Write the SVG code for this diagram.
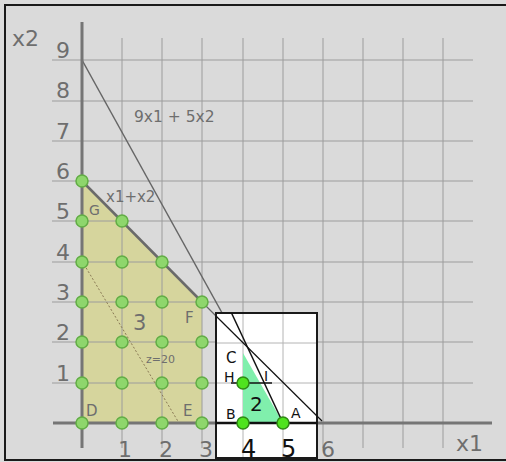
<svg xmlns="http://www.w3.org/2000/svg" width="506" height="462" viewBox="0 0 506 462">
<style>
.grid{stroke:#9c9c9c;stroke-width:1;fill:none}
.igrid{stroke:#b4b4b4;stroke-width:1;fill:none}
.axis{stroke:#757575;stroke-width:3;fill:none}
.lbl{font-family:"DejaVu Sans",sans-serif;fill:#6e6e6e}
.ilbl{font-family:"DejaVu Sans",sans-serif;fill:#111}
.pt{fill:#8ed66c;stroke:#62ad45;stroke-width:1.5}
.ipt{fill:#4fe31e;stroke:#2f8a14;stroke-width:1.5}
</style>
<rect x="0" y="0" width="506" height="462" fill="#dcdcdc"/>
<rect x="5" y="5" width="503" height="455" fill="#dadada" stroke="#1a1a1a" stroke-width="2"/>

<g id="feasible-region">
<polygon points="82,423 82,181 202,302 202,423" fill="#d6d59d"/>
</g>

<g id="grid">
<path class="grid" d="M52,383H473M52,342H473M52,302H473M52,262H473M52,221H473M52,181H473M52,141H473M52,101H473M52,60H473"/>
<path class="grid" d="M122,38V448M162,38V448M202,38V448M243,38V448M283,38V448M323,38V448M363,38V448M403,38V448M443,38V448"/>
</g>

<g id="connectors">
<line x1="82" y1="60" x2="283" y2="423" stroke="#666" stroke-width="1.5"/>
<line x1="202" y1="302" x2="216" y2="316" stroke="#666" stroke-width="1.2"/>
<line x1="82" y1="181" x2="202" y2="302" stroke="#6a6a6a" stroke-width="2.5"/>
<line x1="82" y1="261" x2="179" y2="423" stroke="#8a7a55" stroke-width="1" stroke-dasharray="2,2"/>
</g>

<g id="axes">
<line class="axis" x1="53" y1="423" x2="492" y2="423"/>
<line class="axis" x1="82" y1="22" x2="82" y2="448"/>
</g>

<g id="inset">
<rect x="216" y="313" width="101" height="145" fill="#ffffff" stroke="#1a1a1a" stroke-width="2"/>
<path class="igrid" d="M243,314V457M283,314V457M217,343H316M217,383H316"/>
<polygon points="243,353 243,423 283,423" fill="#80efac"/>
<line x1="216" y1="423" x2="317" y2="423" stroke="#111" stroke-width="2.5"/>
<line x1="231.5" y1="313" x2="283" y2="423" stroke="#111" stroke-width="1.5"/>
<line x1="216" y1="316" x2="322" y2="421" stroke="#111" stroke-width="1.2"/>
<line x1="231" y1="383" x2="272" y2="383" stroke="#111" stroke-width="1.5"/>
</g>

<g id="points">
<circle class="pt" cx="82" cy="181" r="6"/>
<circle class="pt" cx="82" cy="221" r="6"/>
<circle class="pt" cx="122" cy="221" r="6"/>
<circle class="pt" cx="82" cy="262" r="6"/>
<circle class="pt" cx="122" cy="262" r="6"/>
<circle class="pt" cx="162" cy="262" r="6"/>
<circle class="pt" cx="82" cy="302" r="6"/>
<circle class="pt" cx="122" cy="302" r="6"/>
<circle class="pt" cx="162" cy="302" r="6"/>
<circle class="pt" cx="202" cy="302" r="6"/>
<circle class="pt" cx="82" cy="342" r="6"/>
<circle class="pt" cx="122" cy="342" r="6"/>
<circle class="pt" cx="162" cy="342" r="6"/>
<circle class="pt" cx="202" cy="342" r="6"/>
<circle class="pt" cx="82" cy="383" r="6"/>
<circle class="pt" cx="122" cy="383" r="6"/>
<circle class="pt" cx="162" cy="383" r="6"/>
<circle class="pt" cx="202" cy="383" r="6"/>
<circle class="pt" cx="82" cy="423" r="6"/>
<circle class="pt" cx="122" cy="423" r="6"/>
<circle class="pt" cx="162" cy="423" r="6"/>
<circle class="pt" cx="202" cy="423" r="6"/>
</g>
<g id="inset-points">
<circle class="ipt" cx="243" cy="383" r="6"/>
<circle class="ipt" cx="243" cy="423" r="6"/>
<circle class="ipt" cx="283" cy="423" r="6"/>
</g>

<g id="labels">
<text class="lbl" x="12" y="46" font-size="22">x2</text>
<text class="lbl" x="456" y="451" font-size="22">x1</text>
<text class="lbl" x="56" y="58" font-size="22">9</text>
<text class="lbl" x="56" y="98" font-size="22">8</text>
<text class="lbl" x="56" y="139" font-size="22">7</text>
<text class="lbl" x="56" y="179" font-size="22">6</text>
<text class="lbl" x="56" y="219" font-size="22">5</text>
<text class="lbl" x="56" y="260" font-size="22">4</text>
<text class="lbl" x="56" y="300" font-size="22">3</text>
<text class="lbl" x="56" y="340" font-size="22">2</text>
<text class="lbl" x="56" y="381" font-size="22">1</text>
<text class="lbl" x="118" y="457" font-size="22">1</text>
<text class="lbl" x="159" y="457" font-size="22">2</text>
<text class="lbl" x="199" y="457" font-size="22">3</text>
<text class="lbl" x="321" y="457" font-size="22">6</text>
<text class="lbl" x="134" y="122" font-size="15.5">9x1 + 5x2</text>
<text class="lbl" x="106" y="202" font-size="15">x1+x2</text>
<text class="lbl" x="89" y="215" font-size="14">G</text>
<text class="lbl" x="133" y="330" font-size="21">3</text>
<text class="lbl" x="185" y="323" font-size="15">F</text>
<text class="lbl" x="86" y="416" font-size="15">D</text>
<text class="lbl" x="183" y="416" font-size="15">E</text>
<text class="lbl" x="146" y="363" font-size="11">z=20</text>
</g>
<g id="inset-labels">
<text class="ilbl" x="226" y="363" font-size="15">C</text>
<text class="ilbl" x="224" y="382" font-size="14">H</text>
<text class="ilbl" x="264" y="381" font-size="14">I</text>
<text class="ilbl" x="226" y="419" font-size="14">B</text>
<text class="ilbl" x="291" y="418" font-size="14">A</text>
<text class="ilbl" x="250" y="411" font-size="20">2</text>
<text class="ilbl" x="241" y="457" font-size="24">4</text>
<text class="ilbl" x="281" y="457" font-size="24">5</text>
</g>
</svg>
